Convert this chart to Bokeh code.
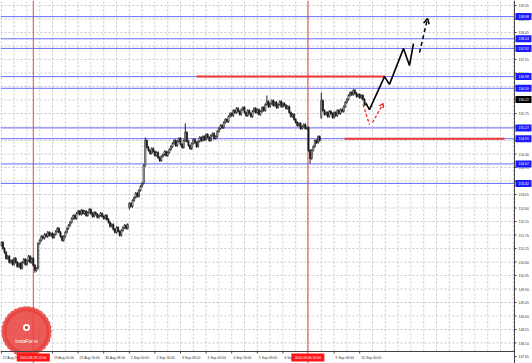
import numpy as np
from bokeh.plotting import figure
from bokeh.models import Range1d
from bokeh.core.properties import value
from bokeh.embed import file_html
from bokeh.resources import INLINE

# ---------------- data ----------------
first_open = 151.36
closes = [
    151.45, 151.25, 151.12, 150.92, 150.99, 150.79, 150.85,
    150.72, 150.92, 150.79, 150.65, 150.75, 150.59, 150.79, 150.89, 150.72, 150.85, 150.99, 150.79, 150.92,
    150.69, 150.52, 150.59,
    151.42,
    151.52, 151.65, 151.59, 151.72, 151.65, 151.79, 151.69, 151.75, 151.62, 151.72, 151.82, 151.92, 151.79, 151.65, 151.52,
    151.65, 151.79, 151.92, 152.02, 152.12, 152.25, 152.35, 152.25, 152.42, 152.49, 152.39, 152.52,
    152.42, 152.49, 152.35, 152.45, 152.55, 152.42, 152.32, 152.45, 152.39, 152.29, 152.35, 152.42, 152.32, 152.25, 152.35, 152.22,
    152.12, 151.99, 152.05, 151.89, 151.79, 151.95, 151.82, 151.69,
    151.85, 151.95, 152.02, 151.92, 152.05,
    152.75,
    152.65, 152.85, 152.95, 153.09, 152.99, 153.19, 153.32, 153.42,
    154.02, 154.85, 154.62,
    154.52, 154.42, 154.58, 154.48, 154.35, 154.45, 154.28, 154.18, 154.32, 154.38, 154.48, 154.35, 154.45, 154.55, 154.65,
    154.75, 154.85, 154.68, 154.82, 154.92, 154.72, 154.62, 154.85, 155.12, 154.82, 154.68, 154.58, 154.75, 154.88,
    154.78, 154.65, 154.82, 154.95, 154.85,
    154.98, 154.88, 155.05, 154.95, 154.85, 155.02, 155.08, 154.92, 154.98, 155.15,
    155.25, 155.35, 155.28, 155.45, 155.55, 155.48, 155.65, 155.75, 155.68, 155.85,
    155.78, 155.92, 155.82, 155.72, 155.88, 155.95, 155.78, 155.68, 155.85, 155.75, 155.65, 155.82, 155.92, 155.78,
    155.88, 155.72, 155.82, 155.95, 155.85,
    156.05, 156.15, 155.98, 156.08, 156.18, 156.02, 156.12, 155.95, 156.05, 156.15, 155.98, 156.08, 156.02, 155.92, 155.98,
    155.78, 155.65, 155.72, 155.55, 155.45, 155.35, 155.42, 155.25,
    155.32, 155.38, 155.25, 155.28,
    154.52, 154.25,
    154.52, 154.65, 154.85, 154.78, 154.98, 154.85,
    156.18,
    155.85, 155.72, 155.78, 155.65, 155.82, 155.75, 155.62, 155.78, 155.68, 155.85, 155.75, 155.88, 155.82,
    155.98, 156.12, 156.22,
    156.35, 156.45, 156.38, 156.52, 156.42, 156.32, 156.38, 156.28, 156.35,
    156.22, 156.05, 156.08,
]
gap_opens = {80: 152.62, 200: 155.62}
extra_highs = {115: 155.42, 166: 156.35, 200: 156.45, 90: 154.95}
extra_lows = {21: 150.44, 193: 154.08, 80: 152.55}
current_price = 156.22

blue_levels = [158.98, 158.24, 157.92, 156.98, 156.59, 155.27, 154.91, 154.07, 153.42]
red_levels = [156.98, 154.91]
red_starts = [122.0, 214.5]
red_ends = [240.0, 314.5]

axis_ticks = [round(147.65 + 0.45 * k, 2) for k in range(27)]
date_ticks = [0, 32, 48, 64, 80, 96, 112, 128, 144, 160, 176, 208, 224]
date_labels = ["27 Aug 2024", "29 Aug 00:00", "29 Aug 16:00", "30 Aug 08:00", "2 Sep 00:00",
               "2 Sep 16:00", "3 Sep 08:00", "4 Sep 00:00", "4 Sep 16:00", "5 Sep 08:00",
               "6 Sep 00:00", "9 Sep 08:00", "10 Sep 00:00"]
vline_bars = [20, 191.6]
vline_labels = ["2024.08.28 12:00", "2024.09.06 16:00"]

forecast_x = [228.0, 230.1, 239.5, 242.6, 251.4, 255.1, 257.6]
forecast_y = [156.08, 155.88, 156.98, 156.72, 157.92, 157.35, 158.08]
arrow_x = [261.4, 266.4]
arrow_y = [157.78, 158.92]
hint_x = [226.1, 230.1, 232.0, 238.7]
hint_y = [156.05, 155.38, 155.45, 156.08]

# ---------------- geometry (pixels -> data) ----------------
W, H = 532, 363
PXB = 1.6          # pixels per bar
PYU = 30.0         # pixels per price unit
X0 = -0.5
YTOP = 159.517
def bx(px):        # pixel x -> bar coordinate
    return X0 + px / PXB
def py(pyx):       # pixel y -> price
    return YTOP - pyx / PYU
XR = bx(514)       # right edge of the chart area
YB = py(351)       # bottom edge of the chart area

FONT = "Liberation Sans"
FS = "3.4px"
TXT = "#333333"

p = figure(width=W, height=H, output_backend="svg", toolbar_location=None,
           x_range=Range1d(X0, bx(W)), y_range=Range1d(py(H), YTOP),
           x_axis_location=None, y_axis_location=None,
           min_border=0, min_border_left=0, min_border_right=0, min_border_top=0, min_border_bottom=0)
p.outline_line_color = None
p.background_fill_color = "white"
p.xgrid.visible = False
p.ygrid.visible = False

# grid (dashed)
gx = list(range(0, int(XR) + 1, 8))
p.segment(x0=gx, y0=[YB] * len(gx), x1=gx, y1=[YTOP] * len(gx), line_color="#c9c9c9", line_dash="2 2", line_width=1)
gy = [t for t in axis_ticks if t > YB]
p.segment(x0=[X0] * len(gy), y0=gy, x1=[XR] * len(gy), y1=gy, line_color="#c9c9c9", line_dash="2 2", line_width=1)

# logo
cx, cy = bx(26), py(331)
teeth = np.linspace(0, 2 * np.pi, 34, endpoint=False)
p.scatter(x=cx + np.cos(teeth) * 22.5 / PXB, y=cy + np.sin(teeth) * 22.5 / PYU, marker="circle",
          size=5.5, fill_color="#e8403c", line_color=None, fill_alpha=0.85)
p.scatter(x=[cx], y=[cy], marker="circle", size=45, fill_color="#e8403c", line_color=None, fill_alpha=0.85)
p.scatter(x=[cx], y=[cy + 4 / PYU], marker="circle", size=7, fill_color="white", line_color=None)
p.scatter(x=[cx], y=[cy + 4 / PYU], marker="circle", size=3.5, fill_color="#e8403c", line_color=None)
p.text(x=[cx], y=[cy - 10 / PYU], text=["InstaForex"], text_font=value(FONT), text_font_size="4.8px",
       text_color="white", text_align="center", text_baseline="middle")

# blue levels
p.segment(x0=[X0] * len(blue_levels), y0=blue_levels, x1=[XR] * len(blue_levels), y1=blue_levels,
          line_color="#6b6bff", line_width=1)

# red vertical lines
p.segment(x0=vline_bars, y0=[py(H)] * 2, x1=vline_bars, y1=[YTOP] * 2, line_color="#ff3b3b", line_width=1)

# candles
n = len(closes)
idx = np.arange(n)
opens = [first_open] + closes[:-1]
for k, v in gap_opens.items():
    opens[k] = v
opens = np.array(opens)
cl = np.array(closes)
top = np.maximum(opens, cl)
bot = np.minimum(opens, cl)
highs = top + 0.04
lows = bot - 0.04
for k, v in extra_highs.items():
    highs[k] = max(highs[k], v)
for k, v in extra_lows.items():
    lows[k] = min(lows[k], v)
p.segment(x0=idx, y0=lows, x1=idx, y1=highs, line_color="#1e1e1e", line_width=1)
bull = cl >= opens
p.vbar(x=idx[bull], width=0.75, top=top[bull], bottom=bot[bull], fill_color="white", line_color="#1e1e1e", line_width=0.7)
p.vbar(x=idx[~bull], width=0.75, top=top[~bull], bottom=bot[~bull], fill_color="#1e1e1e", line_color="#1e1e1e", line_width=0.7)

# red horizontal levels
p.segment(x0=red_starts, y0=red_levels, x1=red_ends, y1=red_levels, line_color="#ee3535", line_width=2)

# forecast path
p.line(forecast_x, forecast_y, line_color="black", line_width=1.6)
p.line(arrow_x, arrow_y, line_color="black", line_width=1.5, line_dash="4 3")
ang = np.arctan2((arrow_y[1] - arrow_y[0]) * PYU, (arrow_x[1] - arrow_x[0]) * PXB)
for s in (1, -1):
    a = ang + np.pi - s * 0.5
    p.line([arrow_x[1], arrow_x[1] + np.cos(a) * 6 / PXB], [arrow_y[1], arrow_y[1] + np.sin(a) * 6 / PYU],
           line_color="black", line_width=1.5)
# red hint
p.line(hint_x[:2], hint_y[:2], line_color="#ff3030", line_width=1.4, line_dash="3 2")
p.line(hint_x[2:], hint_y[2:], line_color="#ff3030", line_width=1.4, line_dash="3 2")
ang2 = np.arctan2((hint_y[3] - hint_y[2]) * PYU, (hint_x[3] - hint_x[2]) * PXB)
for s in (1, -1):
    a = ang2 + np.pi - s * 0.55
    p.line([hint_x[3], hint_x[3] + np.cos(a) * 4.5 / PXB], [hint_y[3], hint_y[3] + np.sin(a) * 4.5 / PYU],
           line_color="#ff3030", line_width=1.4)

# axes lines and ticks
p.segment(x0=[XR], y0=[py(H)], x1=[XR], y1=[YTOP], line_color="#444444", line_width=1)
p.segment(x0=[X0], y0=[YB], x1=[XR], y1=[YB], line_color="#444444", line_width=1)
p.segment(x0=[XR] * len(axis_ticks), y0=axis_ticks, x1=[XR + 2 / PXB] * len(axis_ticks), y1=axis_ticks,
          line_color="#444444", line_width=1)
p.segment(x0=date_ticks, y0=[YB] * len(date_ticks), x1=date_ticks, y1=[YB - 2 / PYU] * len(date_ticks),
          line_color="#444444", line_width=1)

# price axis labels
p.text(x=[XR + 4 / PXB] * len(axis_ticks), y=axis_ticks, text=[f"{t:.2f}" for t in axis_ticks],
       text_font=value(FONT), text_font_size=FS, text_color=TXT, text_align="left", text_baseline="middle")
# date labels
p.text(x=[t + 1.5 / PXB for t in date_ticks], y=[py(357)] * len(date_ticks), text=date_labels,
       text_font=value(FONT), text_font_size=FS, text_color=TXT, text_align="left", text_baseline="middle")

# level boxes on price axis
box_x = bx(523)
p.rect(x=[box_x] * len(blue_levels), y=blue_levels, width=16, height=7, width_units="screen", height_units="screen",
       fill_color="#1a1aff", line_color=None)
p.text(x=[XR + 4 / PXB] * len(blue_levels), y=blue_levels, text=[f"{v:.2f}" for v in blue_levels],
       text_font=value(FONT), text_font_size=FS, text_color="white", text_align="left", text_baseline="middle")
p.rect(x=[box_x], y=[current_price], width=16, height=7, width_units="screen", height_units="screen",
       fill_color="black", line_color=None)
p.text(x=[XR + 4 / PXB], y=[current_price], text=[f"{current_price:.2f}"],
       text_font=value(FONT), text_font_size=FS, text_color="white", text_align="left", text_baseline="middle")

# date boxes of the red verticals
p.rect(x=vline_bars, y=[py(357)] * 2, width=33, height=8, width_units="screen", height_units="screen",
       fill_color="#ff1515", line_color=None)
p.text(x=vline_bars, y=[py(357)] * 2, text=vline_labels, text_font=value(FONT), text_font_size=FS,
       text_color="white", text_align="center", text_baseline="middle")

open("out.html", "w").write(file_html(p, INLINE))
